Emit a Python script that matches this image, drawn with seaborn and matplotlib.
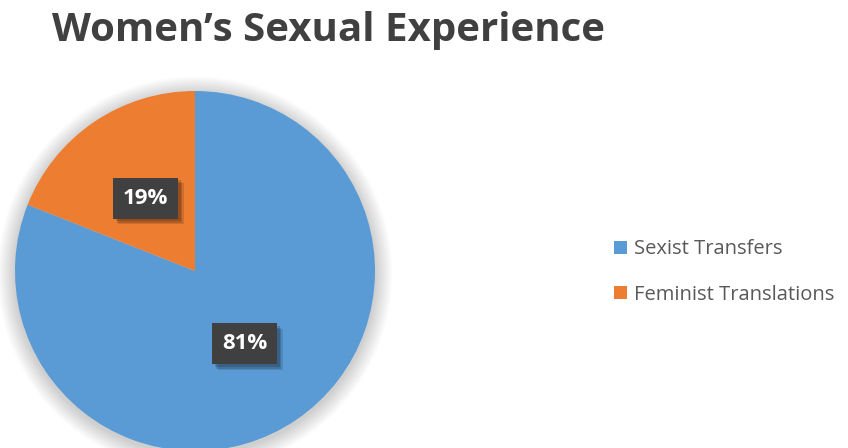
import numpy as np
import matplotlib
matplotlib.use("Agg")
import matplotlib.pyplot as plt
import matplotlib.patheffects as pe
from matplotlib.patches import Circle
import seaborn as sns

categories = ["Sexist Transfers", "Feminist Translations"]
shares = [81, 19]
slice_colors = ["#5B9BD5", "#ED7D31"]
title_text = "Women\u2019s Sexual Experience"

sns.set_theme(style="white")
plt.rcParams["font.family"] = ["Open Sans", "DejaVu Sans"]

fig = plt.figure(figsize=(8.48, 4.48), dpi=100)
fig.patch.set_facecolor("white")

# pie radius 1.0 maps to 180 px; axes spans +/-1.1
ax = fig.add_axes([-3 / 848, -21 / 448, 396 / 848, 396 / 448])
ax.axis("off")

# soft halo beneath the pie
for i in range(16):
    r = 1.0 + 0.006 * (i + 1)
    ax.add_patch(Circle((0, -0.015), r, color="black", alpha=0.012, lw=0,
                        zorder=0, clip_on=False))

wedges, _, autotexts = ax.pie(
    shares,
    colors=slice_colors,
    startangle=90,
    counterclock=False,
    radius=1.0,
    autopct=lambda p: f"{p:.0f}%",
    pctdistance=0.49,
    wedgeprops=dict(linewidth=0),
    textprops=dict(color="white", fontsize=16, fontweight="bold"),
)
ax.set_xlim(-1.1, 1.1)
ax.set_ylim(-1.1, 1.1)
ax.set_aspect("equal")
for w in wedges:
    w.set_zorder(2)

for t in autotexts:
    t.set_zorder(5)
    t.set_bbox(dict(boxstyle="square,pad=0.45", facecolor="#404040", edgecolor="none"))
    t.get_bbox_patch().set_path_effects([
        pe.SimplePatchShadow(offset=(4, -4), shadow_rgbFace="black", alpha=0.12),
        pe.SimplePatchShadow(offset=(3, -3), shadow_rgbFace="black", alpha=0.15),
        pe.SimplePatchShadow(offset=(2, -2), shadow_rgbFace="black", alpha=0.15),
        pe.Normal(),
    ])

fig.text(52 / 848, 1 - 31 / 448, title_text, fontsize=29, fontweight="bold",
         color="#404040", ha="left", va="center")

fig.legend(
    wedges, categories,
    loc="center left",
    bbox_to_anchor=(596 / 848, 1 - 272 / 448),
    frameon=False,
    fontsize=14.5,
    handlelength=0.62,
    handleheight=0.62,
    handletextpad=0.35,
    labelspacing=1.25,
    labelcolor="#595959",
)

fig.savefig("out.png", dpi=100, facecolor="white")
